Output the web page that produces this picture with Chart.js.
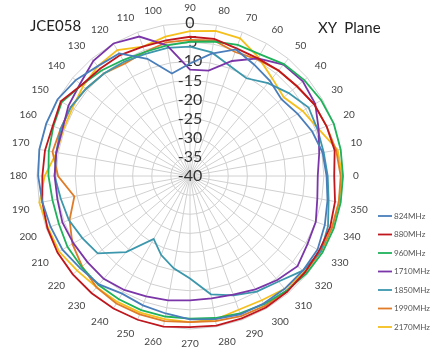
<!DOCTYPE html>
<html>
<head>
<meta charset="utf-8">
<script src="https://cdn.jsdelivr.net/npm/chart.js@4.4.1/dist/chart.umd.min.js"></script>
<style>
  html, body { margin: 0; padding: 0; background: #fff; }
  #wrap { position: relative; width: 432px; height: 350px; }
  .note { position: absolute; font-family: Lato, 'Liberation Sans', sans-serif; font-size: 15px; color: #222; }
</style>
</head>
<body>
<div id="wrap">
  <canvas id="pattern" width="432" height="350"></canvas>
  <div class="note" style="left:30px; top:16px;">JCE058</div>
  <div class="note" style="left:318px; top:18px; word-spacing:4px;">XY Plane</div>
</div>
<script>
// 角度標籤：上方 90，右方 0，順時針排列
const angles = ['90','80','70','60','50','40','30','20','10','0',
  '350','340','330','320','310','300','290','280','270','260',
  '250','240','230','220','210','200','190','180','170','160',
  '150','140','130','120','110','100'];

// 各頻段增益 (dB)，順序與 angles 相同
const g824 = [-10.6,-7.5,-4.8,-6.4,-7.5,-8.8,-7.5,-6,-4.8,-4.3,
  -3.5,-2.5,-1.5,-1.5,-1.5,-1.5,-1.5,-2,-2.5,-3.5,
  -4,-4.5,-3,-2.5,-1.5,-1.2,-0.8,-0.3,0,0,
  0,-1,-2.5,-3,-7.4,-12.8];
const g880 = [-3.6,-3.6,-4.5,-4.5,-4,-3.5,-2.5,-2,-1.6,-2.3,
  -1.5,-1,-1,-0.8,-0.5,-0.3,-0.4,-0.3,-0.5,0,
  0,0,0,0,0,-0.3,-0.8,-1.4,-1.5,-1.8,
  -1,-3,-3.4,-3.5,-4,-4];
const g960 = [-4.9,-4.3,-3.5,-3.3,-1.8,-1,-0.4,0,0,0,
  0,0,0,-0.3,-0.8,-1.3,-1.8,-2.3,-2.7,-2.7,
  -2.7,-2.8,-2.8,-3,-3,-3.5,-3.5,-3,-2.5,-2,
  -1.3,-3,-4,-5,-5.5,-5.3];
const g1710 = [-12.2,-12,-8,-4.5,-2,-1.5,-2.2,-4.2,-5.7,-6.6,
  -6.2,-5,-4.5,-3.3,-4.5,-5.8,-7,-7.5,-7.5,-7,
  -6.5,-5.6,-4.9,-5,-4.8,-4.5,-4.8,-4.6,-4.5,-4.5,
  -3.3,-2.5,-0.7,0,-1.2,-5.3];
const g1850 = [-6.2,-7.2,-9.4,-10.5,-8.3,-6.3,-4.2,-4.5,-4.5,-4,
  -3.2,-1.6,-0.5,-1.5,-4,-5.1,-6.8,-8.6,-13.2,-15.5,
  -18,-21,-14,-8.5,-7.5,-6.3,-5.7,-4.6,-4.5,-4,
  -4,-4.5,-5,-5.5,-6,-6];
const g1990 = [-4.4,-4,-5.5,-4.8,-4,-3.5,-2.5,-2,-1.2,-0.6,
  -0.5,-0.5,-0.5,-0.8,-0.8,-0.8,-1,-1.5,-1.8,-1.5,
  -1.5,-1.5,-2,-3.2,-4.5,-6.5,-9.3,-5.5,-3.5,-4,
  -4,-4.5,-5,-6,-5.5,-4.5];
const g2170 = [-2.1,-1.5,-1.7,-4.2,-6.6,-8,-6,-4.2,-0.8,-0.2,
  -0.5,-0.5,-0.5,-1,-1.5,-2.5,-2.8,-1.9,-1.8,-2,
  -2,-2,-2,-1.5,-0.5,-0.5,0,-2,-4.6,-4.7,
  -4.5,-3.5,-2.5,-2,-4,-3];

const series = [
  { label: '824MHz',  data: g824,  color: '#4a7ebb' },
  { label: '880MHz',  data: g880,  color: '#c0161d' },
  { label: '960MHz',  data: g960,  color: '#1fb25a' },
  { label: '1710MHz', data: g1710, color: '#7a35a8' },
  { label: '1850MHz', data: g1850, color: '#3c97ad' },
  { label: '1990MHz', data: g1990, color: '#e07b28' },
  { label: '2170MHz', data: g2170, color: '#f5bf1c' }
];

// 右下角的圖例 (自己畫，才能放得緊一點)
const sideLegend = {
  id: 'sideLegend',
  afterDraw(chart) {
    const c = chart.ctx;
    c.save();
    // 字太寬就縮小，讓最長的標籤塞進 36px
    let size = 10;
    c.font = size + 'px Lato, "Liberation Sans", sans-serif';
    const widest = Math.max(...chart.data.datasets.map(ds => c.measureText(ds.label).width));
    if (widest > 36) size = size * 36 / widest;
    c.font = size + 'px Lato, "Liberation Sans", sans-serif';
    c.textBaseline = 'middle';
    chart.data.datasets.forEach((ds, i) => {
      const y = 216 + i * 18.5;
      c.strokeStyle = ds.borderColor;
      c.lineWidth = 1.8;
      c.beginPath();
      c.moveTo(378, y);
      c.lineTo(392, y);
      c.stroke();
      c.fillStyle = '#555';
      c.fillText(ds.label, 394, y);
    });
    c.restore();
  }
};

const ctx = document.getElementById('pattern').getContext('2d');

new Chart(ctx, {
  type: 'radar',
  data: {
    labels: angles,
    datasets: series.map(s => ({
      label: s.label,
      data: s.data,
      borderColor: s.color,
      backgroundColor: s.color,
      borderWidth: 1.8,
      pointRadius: 0,
      fill: false
    }))
  },
  plugins: [sideLegend],
  options: {
    responsive: false,
    animation: false,
    devicePixelRatio: 1,
    layout: { padding: { left: 6, top: 3, right: 60, bottom: -3 } },
    plugins: {
      legend: { display: false },
      tooltip: { enabled: false }
    },
    scales: {
      r: {
        min: -40,
        max: 0,
        ticks: {
          stepSize: 5,
          showLabelBackdrop: false,
          backdropPadding: 0,
          color: '#333',
          font: { family: 'Lato, "Liberation Sans", sans-serif', size: 16, lineHeight: 1 }
        },
        grid: { color: '#d0d0d0', lineWidth: 1 },
        angleLines: { color: '#d0d0d0', lineWidth: 1 },
        pointLabels: {
          color: '#444',
          padding: 2,
          font: { family: 'Lato, "Liberation Sans", sans-serif', size: 10, lineHeight: 1 }
        }
      }
    }
  }
});
</script>
</body>
</html>
